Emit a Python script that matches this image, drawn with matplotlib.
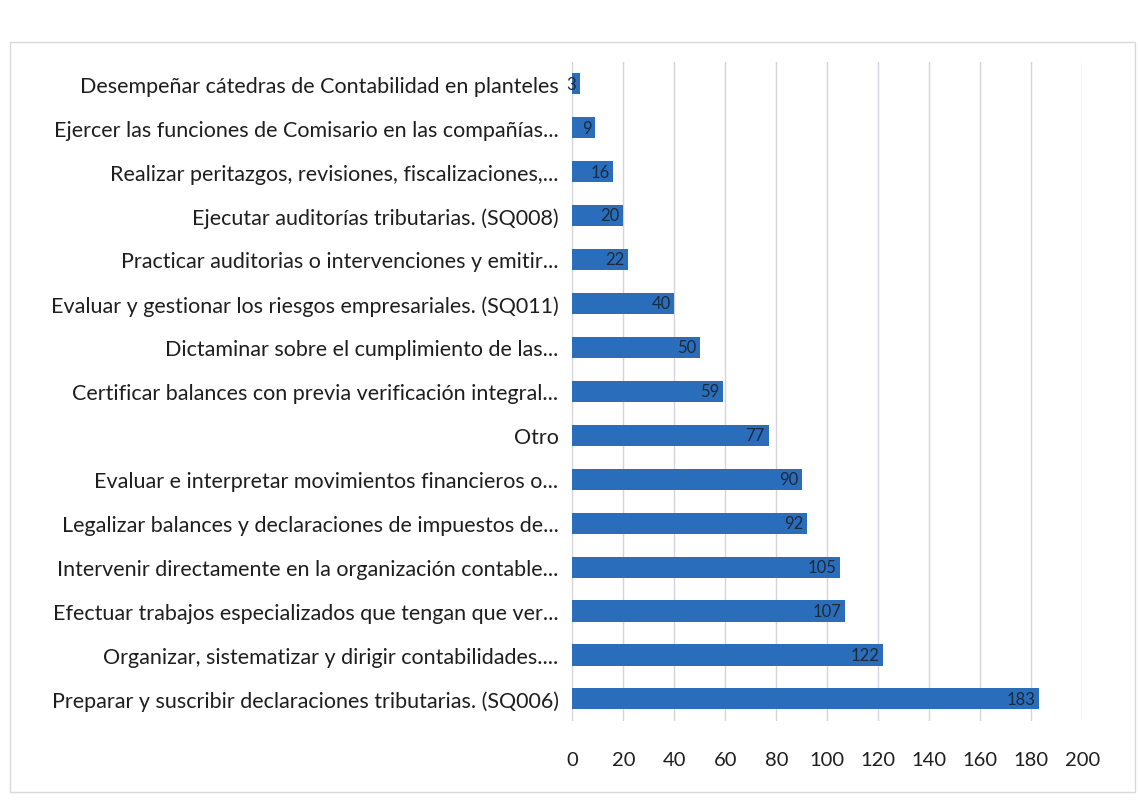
import matplotlib.pyplot as plt
from matplotlib.patches import Rectangle

plt.rcParams["font.family"] = ["Lato", "DejaVu Sans"]

categories = [
    "Desempeñar cátedras de Contabilidad en planteles",
    "Ejercer las funciones de Comisario en las compañías...",
    "Realizar peritazgos, revisiones, fiscalizaciones,...",
    "Ejecutar auditorías tributarias. (SQ008)",
    "Practicar auditorias o intervenciones y emitir...",
    "Evaluar y gestionar los riesgos empresariales. (SQ011)",
    "Dictaminar sobre el cumplimiento de las...",
    "Certificar balances con previa verificación integral...",
    "Otro",
    "Evaluar e interpretar movimientos financieros o...",
    "Legalizar balances y declaraciones de impuestos de...",
    "Intervenir directamente en la organización contable...",
    "Efectuar trabajos especializados que tengan que ver...",
    "Organizar, sistematizar y dirigir contabilidades....",
    "Preparar y suscribir declaraciones tributarias. (SQ006)",
]
counts = [3, 9, 16, 20, 22, 40, 50, 59, 77, 90, 92, 105, 107, 122, 183]
x_ticks = list(range(0, 201, 20))

bar_color = "#2a6ebb"

fig = plt.figure(figsize=(11.38, 8.03), dpi=100)
ax = fig.add_axes([0.503, 0.101, 0.448, 0.821])

ypos = list(range(len(categories) - 1, -1, -1))
ax.barh(ypos, counts, height=0.48, color=bar_color, zorder=3)

for y, v in zip(ypos, counts):
    ax.text(v - 1.5, y, str(v), ha="right", va="center",
            fontsize=12, color="#1c2a3a", zorder=4)

ax.set_xlim(0, 200)
ax.set_ylim(-0.5, len(categories) - 0.5)
ax.set_xticks(x_ticks)
ax.set_yticks(ypos)
ax.set_yticklabels(categories, fontsize=15.5, color="#1e1e1e")
ax.tick_params(axis="x", labelsize=14.5, colors="#1e1e1e", length=0, pad=22)
ax.tick_params(axis="y", length=0, pad=10)
ax.xaxis.grid(True, color="#d4d4dc", linewidth=1.0, zorder=0)
for s in ax.spines.values():
    s.set_visible(False)

# light frame around the chart area
fig.patches.append(Rectangle((0.009, 0.012), 0.988, 0.935, transform=fig.transFigure,
                             fill=False, edgecolor="#d9d9d9", linewidth=1.0))

fig.savefig("out.png", dpi=100, facecolor="white")
